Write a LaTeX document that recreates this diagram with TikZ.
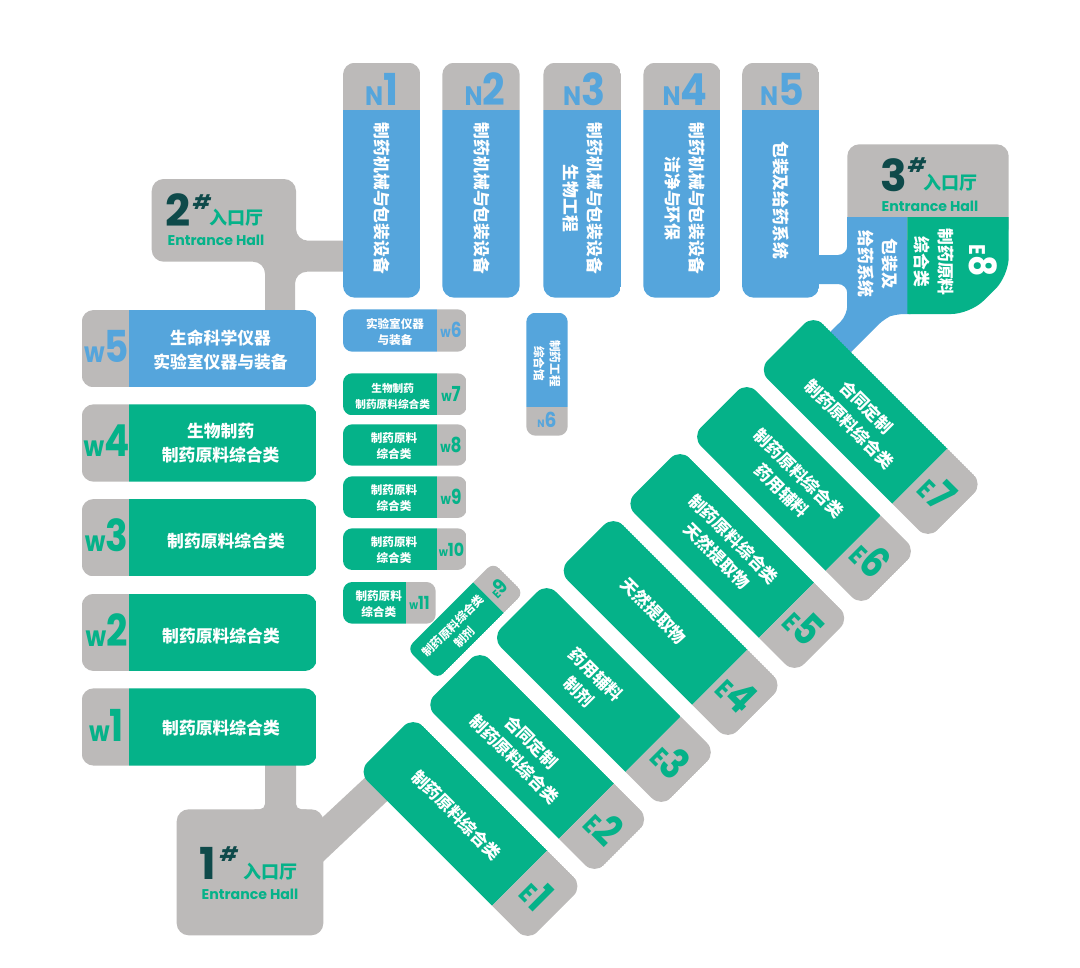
\documentclass[tikz,border=0pt]{standalone}
\usepackage{fontspec}
\setmainfont{Poppins}
\newfontfamily\cjk{Noto Sans CJK SC}
\newfontfamily\lat{Poppins}
\definecolor{cblue}{HTML}{55A5DC}
\definecolor{cgreen}{HTML}{05B289}
\definecolor{cgray}{HTML}{BCBAB9}
\definecolor{cdark}{HTML}{0E4A4A}
\tikzset{
  px/.style={x=0.75pt,y=-0.75pt},
  wtxt/.style={text=white,align=center,inner sep=0pt,font=\cjk\bfseries\fontsize{12.6}{18}\selectfont},
  stxt/.style={text=white,align=center,inner sep=0pt,font=\cjk\bfseries\fontsize{8.7}{12}\selectfont},
  ttxt/.style={text=white,align=center,inner sep=0pt,font=\cjk\bfseries\fontsize{8}{12}\selectfont},
  lab/.style={inner sep=0pt,anchor=base,font=\lat\bfseries},
  hallcn/.style={inner sep=0pt,text=cgreen,font=\cjk\bfseries\fontsize{13.5}{16}\selectfont},
  hallen/.style={inner sep=0pt,text=cgreen,font=\lat\bfseries\fontsize{10.6}{12}\selectfont},
  hallnum/.style={inner sep=0pt,text=cdark,font=\lat\bfseries\fontsize{33}{36}\selectfont},
  hallsh/.style={inner sep=0pt,text=cdark,font=\lat\bfseries\itshape\fontsize{15}{18}\selectfont},
}
% squeeze, small size, big size, small text, big text
\newcommand{\lbl}[5]{\scalebox{#1}[1]{\fontsize{#2}{#2}\selectfont #4\fontsize{#3}{#3}\selectfont #5}}
% left, right, top, bottom, split y, lower colour, upper colour, radius
\newcommand{\vroom}[8]{%
  \begin{scope}
    \clip[rounded corners=#8] (#1,#3) rectangle (#2,#4);
    \fill[#7] (#1,#3) rectangle (#2,#5);
    \fill[#6] (#1,#5) rectangle (#2,#4);
  \end{scope}
}
% left, split x, right, top, bottom, left colour, right colour, radius
\newcommand{\hroom}[8]{%
  \begin{scope}
    \clip[rounded corners=#8] (#1,#4) rectangle (#3,#5);
    \fill[#6] (#1,#4) rectangle (#2,#5);
    \fill[#7] (#2,#4) rectangle (#3,#5);
  \end{scope}
}
% name, cx, cy, text x, text y, text, digit
\newcommand{\eroom}[7]{%
  \begin{scope}[shift={(#2,#3)},rotate=-45]
    \hroom{-120}{69.6}{120}{-39}{39}{cgreen}{cgray}{10pt}
    \node[wtxt,rotate=-45] (#1t) at (#4,#5) {#6};
    \node[lab,text=cgreen,rotate=-45] (#1l) at (93,14) {\lbl{0.82}{20}{32}{E}{#7}};
  \end{scope}
}
\begin{document}
\begin{tikzpicture}[px]
\useasboundingbox (0,0) rectangle (1080,967);
\fill[white] (0,0) rectangle (1080,967);
% hall 2 with connectors
\fill[cgray,rounded corners=9pt] (151.7,179) -- (296,179) -- (296,240.7) -- (370,240.7) -- (370,271.7) -- (295,271.7) -- (295,340) -- (265,340) -- (265,261.7) -- (151.7,261.7) -- cycle;
% hall 1 with connectors
\fill[cgray,rounded corners=9pt] (176.7,809.3) rectangle (323.3,935.3);
\fill[cgray,rounded corners=4pt] (250,820) -- (250,809.3) -- (265,809.3) -- (265,745) -- (296,745) -- (296,809.3) -- (311,809.3) -- (311,820) -- cycle;
\fill[cgray] (310,829) -- (400,745) -- (400,789) -- (310,874) -- cycle;
% blue link: N5 to E8 block and diagonal
\fill[cblue,rounded corners=7pt] (800,255) -- (847.3,255) -- (847.3,230) -- (920,230) -- (920,314) -- (895,314) -- (885,318) -- (835,368) -- (810,352) -- (847.3,315) -- (847.3,284) -- (800,284) -- cycle;
% hall 3 top + E8
\fill[cgray,rounded corners=9pt] (847.3,144.3) rectangle (1008.7,240);
\fill[cblue] (847.3,217.3) rectangle (907.3,314);
\begin{scope}
  \clip (907.3,217.3) rectangle (1010,315);
  \fill[cgreen,rounded corners=14pt] (890,190) -- (1008.7,190) -- (1008.7,276) -- (970,314) -- (890,314) -- cycle;
\end{scope}
% N rooms
\vroom{343}{420.3}{62.7}{297.7}{110}{cblue}{cgray}{9pt}
\vroom{442.3}{519.7}{62.7}{297.7}{110}{cblue}{cgray}{9pt}
\vroom{543.3}{621}{62.7}{297.7}{110}{cblue}{cgray}{9pt}
\vroom{643.3}{720.7}{62.7}{297.7}{110}{cblue}{cgray}{9pt}
\vroom{742}{819.3}{62.7}{297.7}{110}{cblue}{cgray}{9pt}
\node[lab,text=cblue] (n1l) at (381.5,105) {\lbl{0.9}{20}{33}{N}{1}};
\node[lab,text=cblue] (n2l) at (485,105) {\lbl{0.9}{20}{33}{N}{2}};
\node[lab,text=cblue] (n3l) at (584,105) {\lbl{0.9}{20}{33}{N}{3}};
\node[lab,text=cblue] (n4l) at (685,105) {\lbl{0.9}{20}{33}{N}{4}};
\node[lab,text=cblue] (n5l) at (782,105) {\lbl{0.9}{20}{33}{N}{5}};
\node[wtxt,rotate=-90] (n1t) at (381.7,198.5) {制药机械与包装设备};
\node[wtxt,rotate=-90] (n2t) at (481.7,198.5) {制药机械与包装设备};
\node[wtxt,rotate=-90] (n3t) at (583.3,198.5) {制药机械与包装设备\\生物工程};
\node[wtxt,rotate=-90] (n4t) at (685,198.5) {制药机械与包装设备\\洁净与环保};
\node[wtxt,rotate=-90] (n5t) at (780.7,200) {包装及给药系统};
% W rooms
\hroom{81.7}{129}{316.7}{310}{387.3}{cgray}{cblue}{9pt}
\hroom{81.7}{129}{316.7}{404.3}{481.7}{cgray}{cgreen}{9pt}
\hroom{81.7}{129}{316.7}{499}{576.4}{cgray}{cgreen}{9pt}
\hroom{81.7}{129}{316.7}{593.8}{671}{cgray}{cgreen}{9pt}
\hroom{81.7}{129}{316.7}{688.3}{765.6}{cgray}{cgreen}{9pt}
\node[lab,text=cblue] (w5l) at (106.5,362) {\lbl{0.85}{21}{33}{w}{5}};
\node[lab,text=cgreen] (w4l) at (106.5,456.5) {\lbl{0.85}{21}{33}{w}{4}};
\node[lab,text=cgreen] (w3l) at (106.5,551) {\lbl{0.85}{21}{33}{w}{3}};
\node[lab,text=cgreen] (w2l) at (106.5,646) {\lbl{0.85}{21}{33}{w}{2}};
\node[lab,text=cgreen] (w1l) at (106.5,741) {\lbl{0.85}{21}{33}{w}{1}};
\node[wtxt] (w5t) at (220.5,350) {生命科学仪器\\实验室仪器与装备};
\node[wtxt] (w4t) at (220.7,443) {生物制药\\制药原料综合类};
\node[wtxt] (w3t) at (226,541) {制药原料综合类};
\node[wtxt] (w2t) at (221,636) {制药原料综合类};
\node[wtxt] (w1t) at (221,728) {制药原料综合类};
% small W rooms
\hroom{343}{437}{466.7}{309.3}{351.7}{cblue}{cgray}{7pt}
\hroom{343}{437}{466.7}{373.3}{415.3}{cgreen}{cgray}{7pt}
\hroom{343}{437}{466.7}{424.3}{465.7}{cgreen}{cgray}{7pt}
\hroom{343}{437}{466.7}{476.3}{518}{cgreen}{cgray}{7pt}
\hroom{343}{437}{466.7}{528.3}{570}{cgreen}{cgray}{7pt}
\hroom{343}{406}{435.7}{582}{623.7}{cgreen}{cgray}{7pt}
\node[lab,text=cblue] (w6l) at (451,337.3) {\lbl{0.82}{11}{15.5}{w}{6}};
\node[lab,text=cgreen] (w7l) at (451,401) {\lbl{0.82}{11}{15.5}{w}{7}};
\node[lab,text=cgreen] (w8l) at (451,452) {\lbl{0.82}{11}{15.5}{w}{8}};
\node[lab,text=cgreen] (w9l) at (451,504) {\lbl{0.82}{11}{15.5}{w}{9}};
\node[lab,text=cgreen] (w10l) at (451.5,556.7) {\lbl{0.88}{9}{13.5}{w}{10}};
\node[lab,text=cgreen] (w11l) at (419.5,609) {\lbl{0.85}{9}{13.5}{w}{11}};
\node[stxt] (w6t) at (395,332) {实验室仪器\\与装备};
\node[ttxt] (w7t) at (392.7,396) {生物制药\\制药原料综合类};
\node[stxt] (w8t) at (394,446) {制药原料\\综合类};
\node[stxt] (w9t) at (394,498) {制药原料\\综合类};
\node[stxt] (w10t) at (394,550) {制药原料\\综合类};
\node[stxt] (w11t) at (378.7,604) {制药原料\\综合类};
% N6
\vroom{526.3}{567.7}{312.7}{435.7}{406.7}{cgray}{cblue}{7pt}
\node[lab,text=cblue] (n6l) at (547,427) {\lbl{0.9}{8}{15.5}{N}{6}};
\node[stxt,rotate=-90] (n6t) at (547,363.5) {制药工程\\综合馆};
% E rooms
\eroom{e1}{470.5}{829}{-19.7}{0}{制药原料综合类}{1}
\eroom{e2}{537.2}{762}{-18}{2}{合同定制\\制药原料综合类}{2}
\eroom{e3}{603.9}{695}{-20}{3}{药用辅料\\制剂}{3}
\eroom{e4}{670.6}{628}{-24}{0}{天然提取物}{4}
\eroom{e5}{737.3}{561}{-18}{-1}{制药原料综合类\\天然提取物}{5}
\eroom{e6}{804}{494}{-18}{1}{制药原料综合类\\药用辅料}{6}
\eroom{e7}{870.7}{427}{-17}{1}{合同定制\\制药原料综合类}{7}
% E9
\begin{scope}[shift={(465.3,620.8)},rotate=45]
  \hroom{-61}{33}{61}{-21.5}{21.5}{cgreen}{cgray}{6pt}
  \node[stxt,rotate=45] (e9t) at (-12,3) {制药原料综合类\\制剂};
  \node[lab,text=cgreen,rotate=45] (e9l) at (46,8) {\lbl{0.9}{9}{15}{E}{9}};
\end{scope}
% E8 and entrance texts
\node[wtxt,rotate=-90] (e8a) at (878,264) {包装及\\给药系统};
\node[wtxt,rotate=-90] (e8b) at (934,262) {制药原料\\综合类};
\node[lab,text=white,rotate=-90,anchor=base] (e8l) at (969,261) {\lbl{0.88}{17}{28}{E}{8}};
\node[hallnum] (h2n) at (178,210) {2};
\node[hallsh] (h2s) at (202,202) {\#};
\node[hallcn] (h2c) at (236,218) {入口厅};
\node[hallen] (h2e) at (216,240) {Entrance Hall};
\node[hallnum] (h3n) at (894,175) {3};
\node[hallsh] (h3s) at (917,165) {\#};
\node[hallcn] (h3c) at (950,183) {入口厅};
\node[hallen] (h3e) at (930,206) {Entrance Hall};
\node[hallnum] (h1n) at (208,863) {1};
\node[hallsh] (h1s) at (229,854) {\#};
\node[hallcn] (h1c) at (270,872) {入口厅};
\node[hallen] (h1e) at (250,894) {Entrance Hall};
\end{tikzpicture}
\end{document}
